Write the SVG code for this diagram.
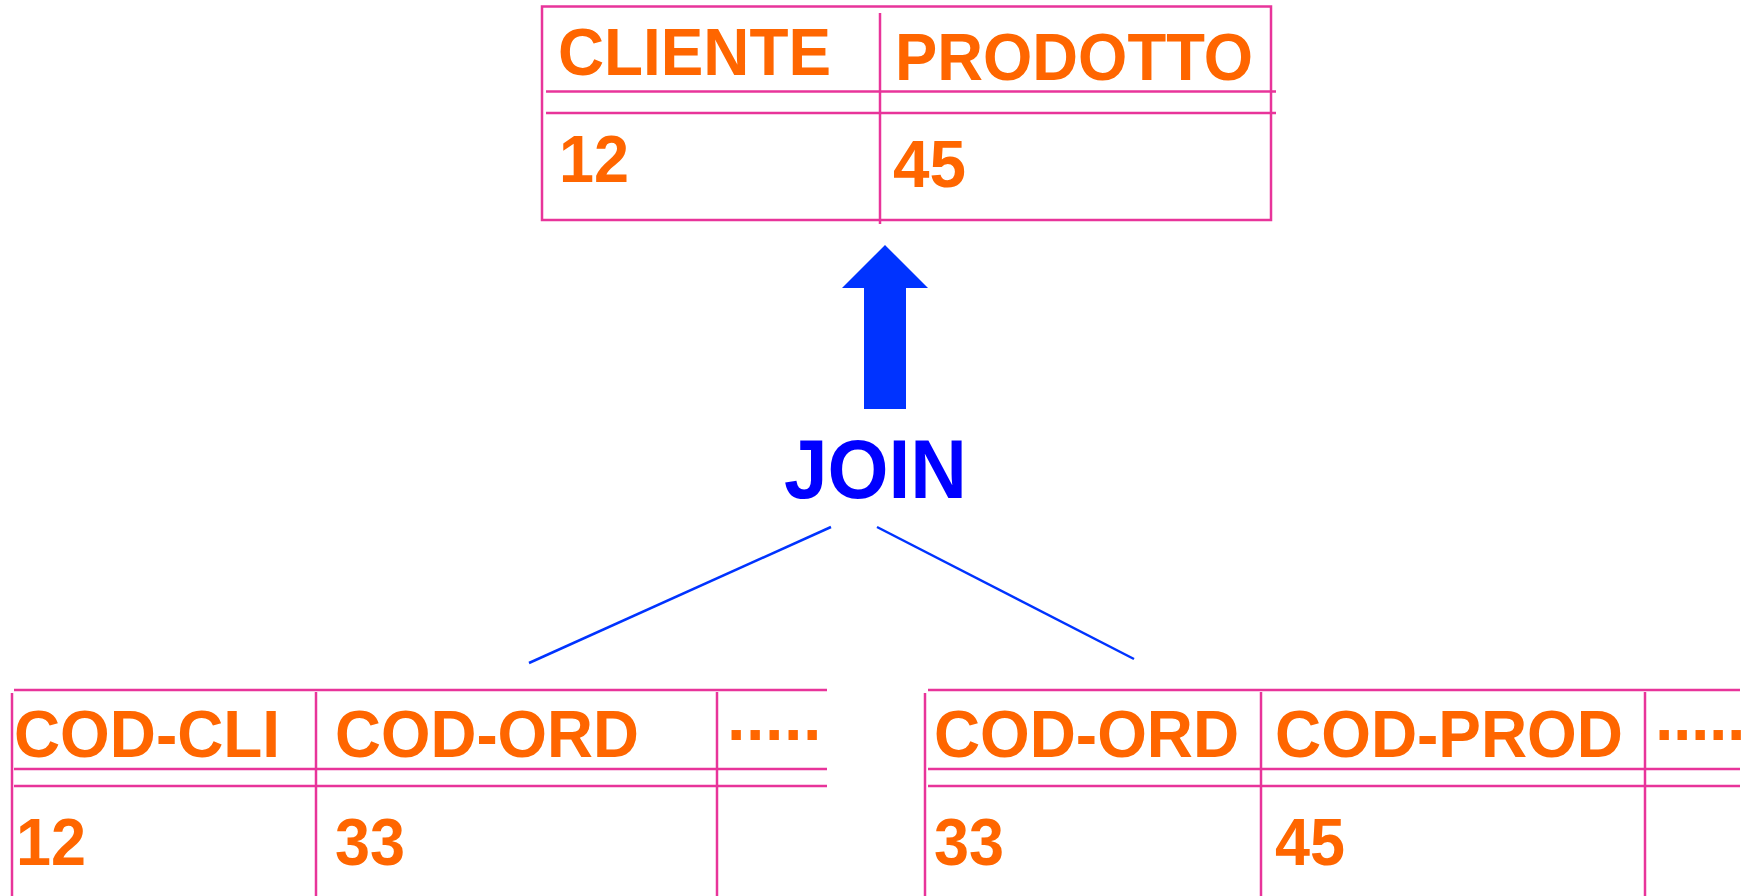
<svg xmlns="http://www.w3.org/2000/svg" width="1753" height="896" viewBox="0 0 1753 896">
<style>
.ln{stroke:#E8349A;stroke-width:2.5;fill:none}
.t{font-family:"Liberation Sans",Arial,sans-serif;font-weight:bold;font-size:66px;fill:#FF6600}
.j{font-family:"Liberation Sans",Arial,sans-serif;font-weight:bold;font-size:84px;fill:#0000FF}
.c{stroke:#0033FF;stroke-width:2.5;fill:none}
</style>
<rect width="1753" height="896" fill="#FFFFFF"/>
<g id="result-table">
<rect class="ln" x="542" y="6.5" width="729" height="213.5"/>
<line class="ln" x1="880" y1="13" x2="880" y2="224"/>
<line class="ln" x1="546" y1="91.5" x2="1276" y2="91.5"/>
<line class="ln" x1="546" y1="113" x2="1276" y2="113"/>
<text class="t" x="558" y="75" textLength="273" lengthAdjust="spacingAndGlyphs">CLIENTE</text>
<text class="t" x="895" y="80" textLength="358" lengthAdjust="spacingAndGlyphs">PRODOTTO</text>
<text class="t" x="559" y="182" textLength="70" lengthAdjust="spacingAndGlyphs">12</text>
<text class="t" x="893" y="187" textLength="73" lengthAdjust="spacingAndGlyphs">45</text>
</g>
<g id="join-arrow">
<polygon points="885,245 928,288 906,288 906,409 864,409 864,288 842,288" fill="#0033FF"/>
</g>
<g id="join-label">
<text class="j" x="784" y="498" textLength="183" lengthAdjust="spacingAndGlyphs">JOIN</text>
</g>
<g id="connectors">
<line class="c" x1="831" y1="527" x2="529" y2="663"/>
<line class="c" x1="877" y1="527" x2="1134" y2="659"/>
</g>
<g id="table-ordini">
<line class="ln" x1="14" y1="690" x2="827" y2="690"/>
<line class="ln" x1="12" y1="693" x2="12" y2="896"/>
<line class="ln" x1="316" y1="692" x2="316" y2="896"/>
<line class="ln" x1="717" y1="692" x2="717" y2="896"/>
<line class="ln" x1="14" y1="769" x2="827" y2="769"/>
<line class="ln" x1="14" y1="786" x2="827" y2="786"/>
<text class="t" x="14" y="757" textLength="266" lengthAdjust="spacingAndGlyphs">COD-CLI</text>
<text class="t" x="335" y="757" textLength="304" lengthAdjust="spacingAndGlyphs">COD-ORD</text>
<text class="t" x="727" y="757" textLength="98" lengthAdjust="spacing">·····</text>
<text class="t" x="16" y="865" textLength="70" lengthAdjust="spacingAndGlyphs">12</text>
<text class="t" x="335" y="865" textLength="70" lengthAdjust="spacingAndGlyphs">33</text>
</g>
<g id="table-dettagli">
<line class="ln" x1="928" y1="690" x2="1740" y2="690"/>
<line class="ln" x1="925" y1="693" x2="925" y2="896"/>
<line class="ln" x1="1261" y1="692" x2="1261" y2="896"/>
<line class="ln" x1="1645" y1="692" x2="1645" y2="896"/>
<line class="ln" x1="928" y1="769" x2="1740" y2="769"/>
<line class="ln" x1="928" y1="786" x2="1740" y2="786"/>
<text class="t" x="934" y="757" textLength="305" lengthAdjust="spacingAndGlyphs">COD-ORD</text>
<text class="t" x="1275" y="757" textLength="348" lengthAdjust="spacingAndGlyphs">COD-PROD</text>
<text class="t" x="1655" y="757" textLength="94" lengthAdjust="spacing">·····</text>
<text class="t" x="934" y="865" textLength="70" lengthAdjust="spacingAndGlyphs">33</text>
<text class="t" x="1275" y="865" textLength="70" lengthAdjust="spacingAndGlyphs">45</text>
</g>
</svg>
